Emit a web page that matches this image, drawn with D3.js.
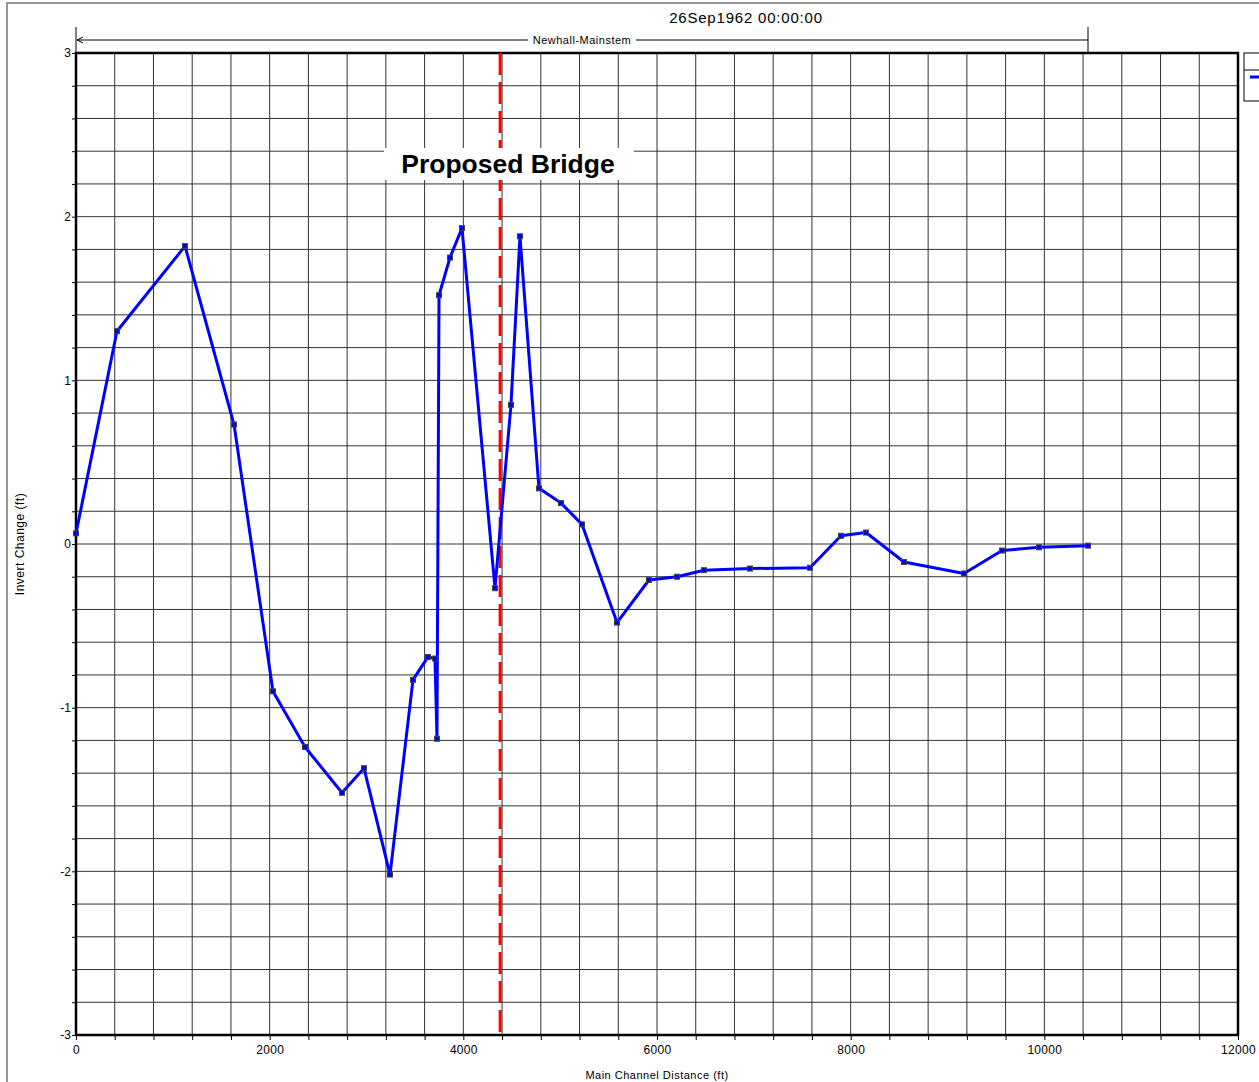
<!DOCTYPE html>
<html>
<head>
<meta charset="utf-8">
<script src="https://cdn.jsdelivr.net/npm/d3@7"></script>
<style>
  body { margin: 0; background: #fff; }
  svg { display: block; font-family: "Liberation Sans", Arial, sans-serif; }
</style>
</head>
<body>
<div id="chart"></div>
<script>
// Données
const distance = [0, 423, 1126, 1632, 2034, 2365, 2747, 2974, 3243, 3480, 3635, 3707, 3728, 3749,
  3862, 3986, 4327, 4492, 4585, 4781, 5009, 5225, 5587, 5917, 6207, 6485, 6960, 7580, 7900,
  8158, 8551, 9170, 9563, 9945, 10451];
const invertChange = [0.065, 1.30, 1.82, 0.73, -0.90, -1.24, -1.52, -1.37, -2.02, -0.83, -0.69, -0.70,
  -1.19, 1.52, 1.75, 1.93, -0.27, 0.85, 1.88, 0.34, 0.25, 0.12, -0.48, -0.22, -0.20, -0.16,
  -0.15, -0.145, 0.05, 0.07, -0.11, -0.18, -0.04, -0.02, -0.01];
const xTicks = [0, 2000, 4000, 6000, 8000, 10000, 12000];
const yTicks = [-3, -2, -1, 0, 1, 2, 3];
const bridgeStation = 4380;
const title = "26Sep1962 00:00:00";
const reachName = "Newhall-Mainstem";

const width = 1259, height = 1082;
const margin = { left: 76, top: 53, right: 1238, bottom: 1035 };

const svg = d3.select("#chart").append("svg")
  .attr("width", width).attr("height", height);

// Cadre extérieur
svg.append("rect")
  .attr("x", 7).attr("y", 3).attr("width", 1400).attr("height", 1200)
  .attr("fill", "none").attr("stroke", "#777").attr("stroke-width", 1.5);

const x = d3.scaleLinear().domain([0, 12000]).range([margin.left, margin.right]);
const y = d3.scaleLinear().domain([-3, 3]).range([margin.bottom, margin.top]);

// Grille
const xGrid = d3.range(0, 12001, 400);
const yGrid = d3.range(-3, 3.0001, 0.2);
svg.append("g").selectAll("line").data(xGrid).enter().append("line")
  .attr("x1", d => x(d)).attr("x2", d => x(d))
  .attr("y1", margin.top).attr("y2", margin.bottom)
  .attr("stroke", "#333").attr("stroke-width", 1);
svg.append("g").selectAll("line").data(yGrid).enter().append("line")
  .attr("x1", margin.left).attr("x2", margin.right)
  .attr("y1", d => y(d)).attr("y2", d => y(d))
  .attr("stroke", "#333").attr("stroke-width", 1);

// Axes
const xAxis = d3.axisBottom(x).tickValues(xGrid).tickSize(5)
  .tickFormat(d => xTicks.includes(d) ? d : "");
const gx = svg.append("g").attr("transform", `translate(0,${margin.bottom})`).call(xAxis);
gx.select(".domain").remove();
gx.selectAll("text").attr("font-size", 12).attr("font-family", "Liberation Sans, Arial, sans-serif")
  .attr("letter-spacing", 0.3).attr("dy", "0.95em");

const yAxis = d3.axisLeft(y).tickValues(yGrid).tickSize(4)
  .tickFormat(d => {
    const r = Math.round(d * 10) / 10;
    return yTicks.includes(r) ? r : "";
  });
const gy = svg.append("g").attr("transform", `translate(${margin.left},0)`).call(yAxis);
gy.select(".domain").remove();
gy.selectAll("text").attr("font-size", 12).attr("font-family", "Liberation Sans, Arial, sans-serif").attr("x", -5);

// Bordure épaisse
svg.append("rect")
  .attr("x", margin.left).attr("y", margin.top)
  .attr("width", margin.right - margin.left).attr("height", margin.bottom - margin.top)
  .attr("fill", "none").attr("stroke", "#000").attr("stroke-width", 2.5);

// Titres
svg.append("text").attr("x", 746).attr("y", 23).attr("text-anchor", "middle")
  .attr("font-size", 15).attr("letter-spacing", 0.8).text(title);
svg.append("text").attr("x", 657).attr("y", 1079).attr("text-anchor", "middle")
  .attr("font-size", 11).attr("letter-spacing", 0.5).text("Main Channel Distance (ft)");
svg.append("text").attr("transform", "translate(24,544) rotate(-90)").attr("text-anchor", "middle")
  .attr("font-size", 12).attr("letter-spacing", 0.5).text("Invert Change (ft)");

// Flèche du tronçon
const reachEnd = x(d3.max(distance));
const g = svg.append("g");
g.append("line").attr("x1", x(0)).attr("x2", x(0)).attr("y1", 27).attr("y2", margin.top).attr("stroke", "#000");
g.append("line").attr("x1", reachEnd).attr("x2", reachEnd).attr("y1", 27).attr("y2", margin.top).attr("stroke", "#000");
g.append("line").attr("x1", x(0) + 1).attr("x2", reachEnd).attr("y1", 40).attr("y2", 40).attr("stroke", "#000");
g.append("path").attr("d", `M${x(0) + 7},37 L${x(0) + 1},40 L${x(0) + 7},43`)
  .attr("fill", "none").attr("stroke", "#000");
const labelX = (x(0) + reachEnd) / 2;
g.append("rect").attr("x", labelX - 54).attr("y", 33).attr("width", 108).attr("height", 14).attr("fill", "#fff");
g.append("text").attr("x", labelX).attr("y", 44).attr("text-anchor", "middle")
  .attr("font-size", 11).attr("letter-spacing", 0.5).text(reachName);

// Légende (coupée à droite)
svg.append("rect").attr("x", 1244).attr("y", 53).attr("width", 100).attr("height", 48)
  .attr("fill", "#fff").attr("stroke", "#000");
svg.append("line").attr("x1", 1244).attr("x2", 1344).attr("y1", 70).attr("y2", 70).attr("stroke", "#000");
svg.append("line").attr("x1", 1250).attr("x2", 1270).attr("y1", 77).attr("y2", 77)
  .attr("stroke", "#0000ff").attr("stroke-width", 3);

// Ligne du pont proposé
svg.append("line")
  .attr("x1", x(bridgeStation)).attr("x2", x(bridgeStation))
  .attr("y1", margin.top).attr("y2", margin.bottom)
  .attr("stroke", "#f00").attr("stroke-width", 3)
  .attr("stroke-dasharray", "22,7");

svg.append("rect").attr("x", 384).attr("y", 148).attr("width", 250).attr("height", 32).attr("fill", "#fff");
svg.append("text").attr("x", 508).attr("y", 173).attr("text-anchor", "middle")
  .attr("font-size", 26.5).attr("font-weight", "bold").text("Proposed Bridge");

// Série
const pts = distance.map((d, i) => [d, invertChange[i]]);
const line = d3.line().x(d => x(d[0])).y(d => y(d[1]));
svg.append("path").datum(pts).attr("d", line)
  .attr("fill", "none").attr("stroke", "#0000ff").attr("stroke-width", 3)
  .attr("stroke-linejoin", "round");
svg.append("g").selectAll("rect").data(pts).enter().append("rect")
  .attr("x", d => x(d[0]) - 2.5).attr("y", d => y(d[1]) - 2.5)
  .attr("width", 5).attr("height", 5)
  .attr("fill", "#0000ff").attr("stroke", "#444").attr("stroke-width", 1);
</script>
</body>
</html>
